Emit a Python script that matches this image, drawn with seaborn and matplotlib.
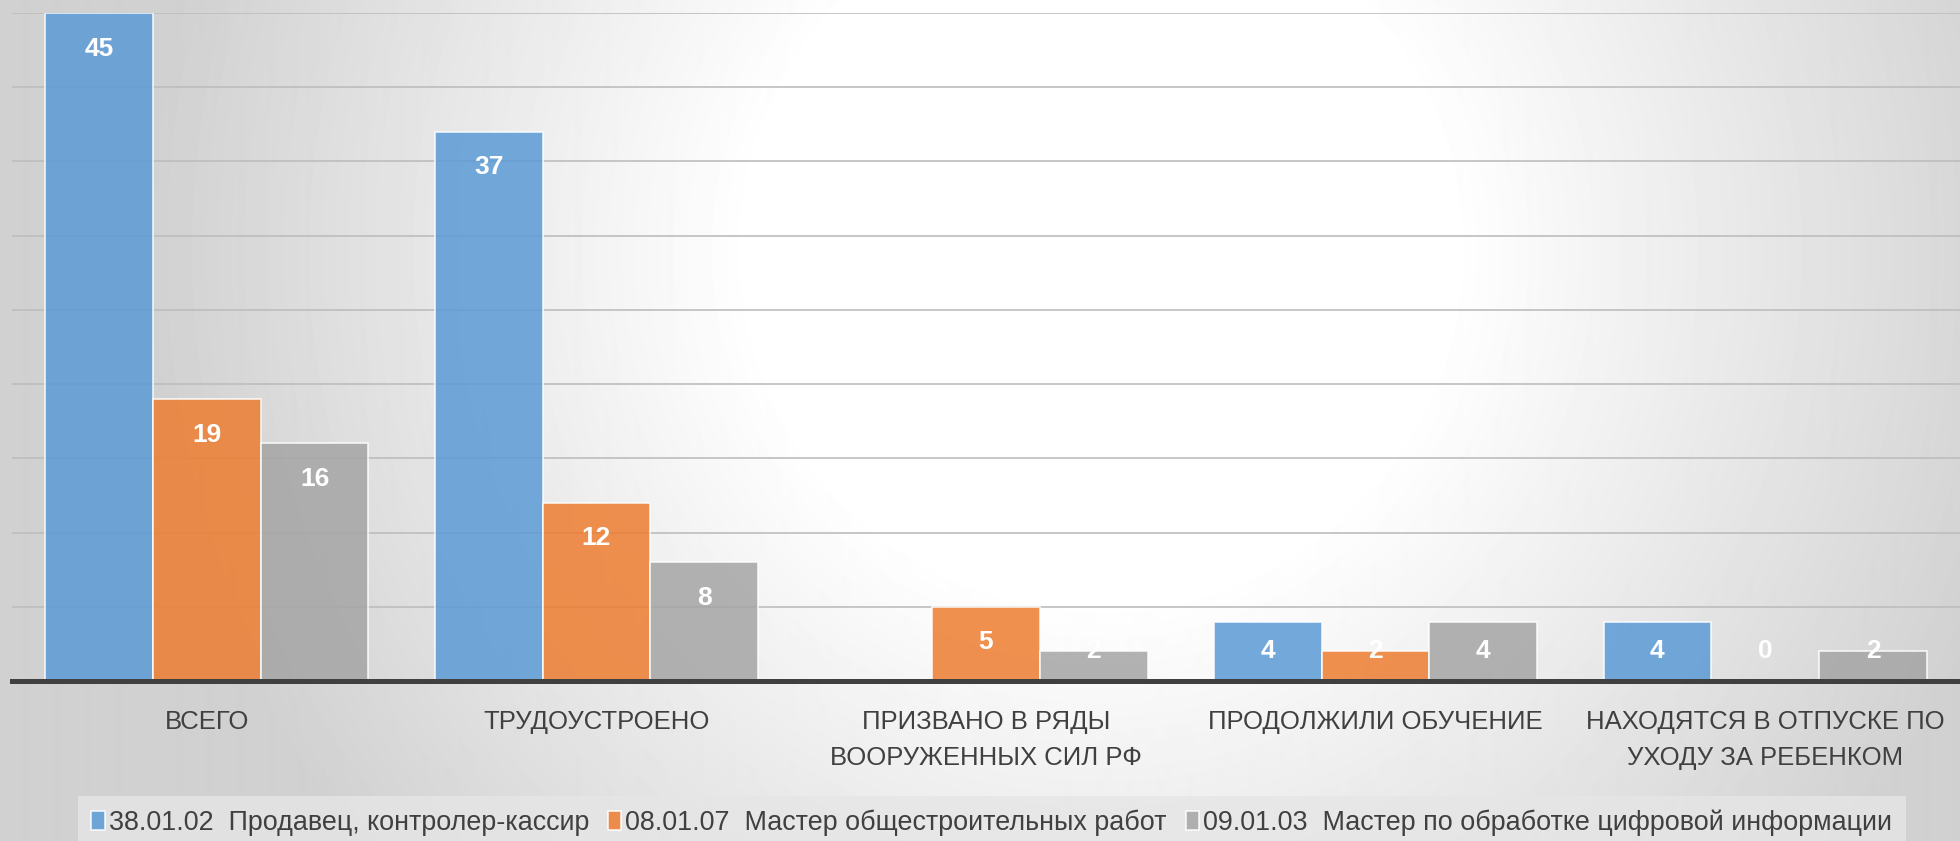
import numpy as np
import pandas as pd
import matplotlib
matplotlib.use('Agg')
import matplotlib.pyplot as plt
import seaborn as sns

# Data
categories = ['ВСЕГО', 'ТРУДОУСТРОЕНО', 'ПРИЗВАНО В РЯДЫ\nВООРУЖЕННЫХ СИЛ РФ',
              'ПРОДОЛЖИЛИ ОБУЧЕНИЕ', 'НАХОДЯТСЯ В ОТПУСКЕ ПО\nУХОДУ ЗА РЕБЕНКОМ']
series = ['38.01.02  Продавец, контролер-кассир',
          '08.01.07  Мастер общестроительных работ',
          '09.01.03  Мастер по обработке цифровой информации']
seller = [45, 37, np.nan, 4, 4]
builder = [19, 12, 5, 2, 0]
digital = [16, 8, 2, 4, 2]
colors = ['#5B9BD5', '#ED7D31', '#A5A5A5']

df = pd.DataFrame({
    'cat': categories * 3,
    'series': [series[0]] * 5 + [series[1]] * 5 + [series[2]] * 5,
    'value': seller + builder + digital,
})

sns.set_style('white')
plt.rcParams['font.family'] = ['Liberation Sans Narrow', 'Liberation Sans', 'DejaVu Sans']

fig = plt.figure(figsize=(19.6, 8.41), dpi=100)

# radial grey-white background
bg = fig.add_axes([0, 0, 1, 1], zorder=-10)
yy, xx = np.mgrid[0:841, 0:1960]
r = np.hypot(xx - 1100, yy - 250)
shade = 255 - 46 * np.clip((r - 350) / 600, 0, 1)
bg.imshow(shade, cmap='gray', vmin=0, vmax=255, aspect='auto', interpolation='bilinear')
bg.axis('off')

ax = fig.add_axes([12 / 1960, 1 - 681 / 841, 1 - 12 / 1960, (681 - 13) / 841])
ax.set_facecolor('none')

sns.barplot(data=df, x='cat', y='value', hue='series', order=categories,
            hue_order=series, palette=colors, saturation=1, width=0.83,
            alpha=0.85, edgecolor=(1, 1, 1, 0.6), linewidth=1.2, ax=ax, zorder=2)

# value labels inside the bar tops
for cont in ax.containers:
    for bar in cont:
        h = bar.get_height()
        if np.isnan(h):
            continue
        y = max(h - 2.4, 2.0)
        ax.text(bar.get_x() + bar.get_width() / 2, y, f'{int(h)}', ha='center', va='center',
                color='white', fontsize=19, fontweight='bold', zorder=5)

ax.set_ylim(0, 45)
ax.set_xlim(-0.5, 4.5)
ax.set_yticks(np.arange(0, 46, 5))
ax.set_yticklabels([])
ax.yaxis.grid(True, color='#bdbdbd', linewidth=1.2)
ax.set_axisbelow(True)
ax.tick_params(axis='y', length=0)
ax.tick_params(axis='x', length=0, pad=21, labelsize=18.5, labelcolor='#404040')
for lbl in ax.get_xticklabels():
    lbl.set_linespacing(1.6)
ax.set_xlabel('')
ax.set_ylabel('')
for s in ['top', 'left', 'right']:
    ax.spines[s].set_visible(False)
ax.spines['bottom'].set_color('#404040')
ax.spines['bottom'].set_linewidth(3.6)
ax.spines['bottom'].set_zorder(6)

ax.get_legend().remove()
handles, labels = ax.get_legend_handles_labels()
leg = fig.legend(handles, labels, loc='upper center', bbox_to_anchor=(0.506, 1 - 796 / 841),
                 ncol=3, fontsize=19.4, frameon=True, fancybox=False, borderpad=0.5,
                 borderaxespad=0, handlelength=0.5, handleheight=0.75, handletextpad=0.15,
                 columnspacing=0.7, labelcolor='#404040')
leg.get_frame().set_facecolor('#e6e6e6')
leg.get_frame().set_alpha(0.8)
leg.get_frame().set_edgecolor('none')

fig.savefig('out.png', dpi=100)
